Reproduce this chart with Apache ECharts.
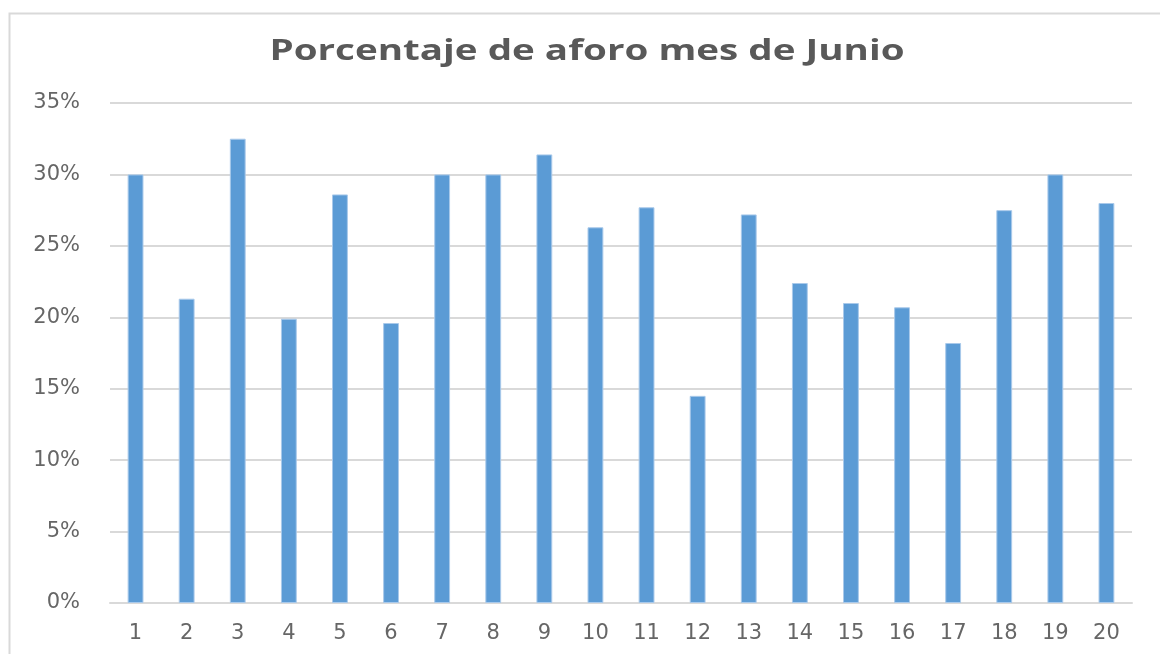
<!DOCTYPE html>
<html>
<head>
<meta charset="utf-8">
<script src="https://cdn.jsdelivr.net/npm/echarts@6/dist/echarts.min.js"></script>
<style>
  html, body { margin: 0; padding: 0; background: #fff; }
  #chart { width: 1160px; height: 654px; }
</style>
</head>
<body>
<div id="chart"></div>
<script>
const days = ['1', '2', '3', '4', '5', '6', '7', '8', '9', '10',
  '11', '12', '13', '14', '15', '16', '17', '18', '19', '20'];
const aforo = [0.300, 0.213, 0.325, 0.199, 0.286, 0.196, 0.300, 0.300, 0.314, 0.263,
  0.277, 0.145, 0.272, 0.224, 0.210, 0.207, 0.182, 0.275, 0.300, 0.280];
const yTicks = [0, 0.05, 0.10, 0.15, 0.20, 0.25, 0.30, 0.35];
const titleText = 'Porcentaje de aforo mes de Junio';

const chart = echarts.init(document.getElementById('chart'));

chart.setOption({
  animation: false,
  backgroundColor: '#fff',
  graphic: [
    // outer chart frame (cropped on the right and bottom)
    {
      type: 'rect',
      left: 7,
      top: 11,
      shape: { width: 1170, height: 700 },
      style: { fill: 'none', stroke: '#d9d9d9', lineWidth: 2 },
      silent: true
    },
    // title, stretched wide like the original
    {
      type: 'text',
      x: 587,
      y: 52,
      scaleX: 1.33,
      style: {
        text: titleText,
        textAlign: 'center',
        textVerticalAlign: 'middle',
        fontFamily: 'Open Sans',
        fontSize: 29,
        fontWeight: 'bold',
        fill: '#595959'
      },
      silent: true
    }
  ],
  grid: { left: 110, right: 28, top: 103, bottom: 51 },
  xAxis: {
    type: 'category',
    data: days,
    axisLine: { lineStyle: { color: '#d9d9d9', width: 2 } },
    axisTick: { show: false },
    axisLabel: {
      color: '#666666',
      fontFamily: 'DejaVu Sans',
      fontSize: 21,
      margin: 20
    }
  },
  yAxis: {
    type: 'value',
    min: 0,
    max: yTicks[yTicks.length - 1],
    interval: 0.05,
    axisLine: { show: false },
    axisTick: { show: false },
    splitLine: { lineStyle: { color: '#d9d9d9', width: 2 } },
    axisLabel: {
      color: '#666666',
      fontFamily: 'DejaVu Sans',
      fontSize: 21,
      margin: 30,
      formatter: v => Math.round(v * 100) + '%'
    }
  },
  series: [{
    type: 'bar',
    data: aforo,
    barWidth: '31%',
    itemStyle: { color: '#5b9bd5', borderColor: '#a9c9ea', borderWidth: 1 }
  }]
});
</script>
</body>
</html>
